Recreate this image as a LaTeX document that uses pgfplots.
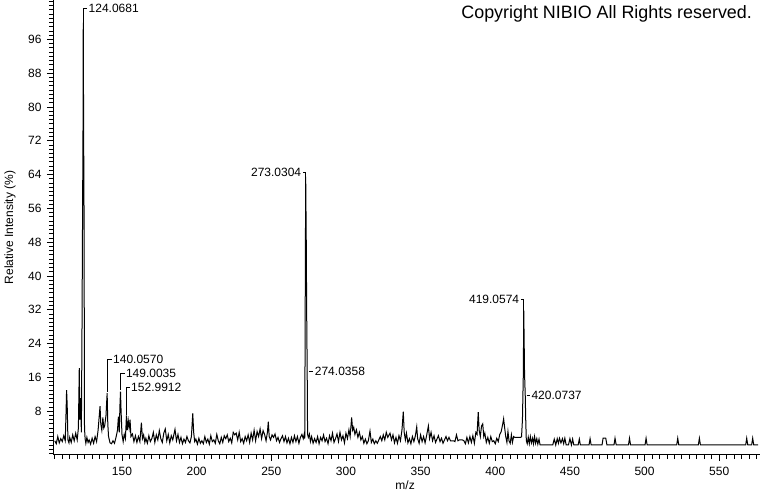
\documentclass[border=0pt]{standalone}
\usepackage{fontspec}
\setmainfont{Liberation Sans}
\usepackage{pgfplots}
\pgfplotsset{compat=1.18}
\begin{document}
\begin{tikzpicture}
\begin{axis}[
  scale only axis, width=707pt, height=455pt,
  xmin=103.8, xmax=577.3, ymin=-2.37, ymax=105.33,
  axis lines=left, axis line style={-, line width=1pt, black},
  tick align=outside,
  major tick length=6pt, minor tick length=4pt,
  every tick/.style={black, line width=0.9pt},
  xtick={150,200,...,550}, minor xtick={105,110,...,575},
  ytick={8,16,...,96}, minor ytick={-2,-1,...,105},
  ticklabel style={font=\fontsize{12}{14}\selectfont},
  xticklabel style={yshift=-3pt},
  yticklabel style={xshift=-2pt},
  /pgf/number format/assume math mode=true,
  xlabel={m/z}, ylabel={Relative Intensity (\%)},
  every axis x label/.style={at={([yshift=-30pt]axis description cs:0.498,0)}, anchor=center, font=\fontsize{12}{14}\selectfont},
  every axis y label/.style={at={([xshift=-43pt]axis description cs:0,0.5)}, anchor=center, rotate=90, font=\fontsize{12}{14}\selectfont},
  clip=false,
]
\addplot[black, line width=1pt] coordinates {
(105,1.0) (106,0.3) (107,2.0) (108,0.5) (109,1.5) (110,0.8) (111,2.2) (112,1.0)
(112.6,8.5) (112.9,13.0) (113.3,9.5) (113.8,1.2) (114.5,0.5) (115,1.8) (116,0.6)
(117,2.4) (118,1.0) (119,2.8) (120,1.2) (120.8,4) (121.4,18.2) (121.8,6) (122.3,11.1)
(122.8,3) (123.2,26) (123.6,54) (123.9,75) (124.07,100) (124.3,75) (124.6,54) (124.9,4)
(125.3,1.5) (125.8,0.4) (126.5,1.8) (127.3,0.6) (128,1.2) (129,0.2) (130,1.6) (131,0.4)
(132,2.0) (133,0.8) (134,3.5) (134.8,7) (135.3,9.2) (135.8,5) (136.5,3.5) (137.2,6.5)
(137.8,4) (138.4,4.5) (139.3,7) (140.06,12.3) (140.5,5) (141,2) (142,0.5) (143,0.3)
(144,1.0) (145,0.4) (146,1.8) (147,3.5) (147.6,6.7) (148.2,3) (148.6,9) (149.0,12.6)
(149.4,8) (150,2.5) (150.8,0.8) (151.5,2.5) (152.3,1.5) (152.99,7) (153.5,3.5)
(154.2,5.8) (154.8,4) (155.4,6) (156,2) (157,2.6) (158,0.8) (159,2.2) (160,0.6)
(161,2.0) (162,0.8) (163,5.3) (163.7,1.5) (164.5,2.4) (165.3,0.6) (166,1.6) (167,0.4)
(168,2.2) (169,0.8) (170,1.5) (171,3.0) (172,0.6) (173,2.4) (174,1.2) (175,3.4)
(176,1.5) (177,0.6) (178,2.8) (179,3.8) (180,1.0) (181,2.5) (182,0.5) (183,2.2)
(184,1.2) (185.5,3.7) (186.5,1.0) (187.5,2.5) (188.5,0.6) (189.5,1.8) (190.5,0.3)
(191.5,1.4) (192.5,0.6) (193.5,2.0) (194.5,1.0) (195.5,0.5) (196.5,2.0) (197.4,7.5)
(198,3) (198.7,0.8) (199.5,1.4) (200.5,0.2) (201.5,1.6) (202.5,0.4) (203.5,1.0)
(204.5,0.3) (205.5,2.0) (206.5,0.6) (207.5,1.4) (208.5,0.2) (209.5,2.2) (210.5,0.8)
(211.5,1.2) (212.5,0.4) (213.5,2.5) (214.5,1.0) (215.5,0.3) (216.5,1.8) (217.5,0.6)
(218.5,2.2) (219.5,1.5) (220.5,2.4) (221.5,0.8) (222.5,1.6) (223.5,0.5) (224.5,3.0)
(225.5,2.4) (226.5,2.8) (227.5,1.2) (228.5,3.0) (229.5,0.8) (230.5,1.5) (231.5,0.4)
(232.5,2.0) (233.5,1.0) (234.5,2.4) (235.5,0.6) (236.5,2.8) (237.5,1.2) (238.5,3.5)
(239.5,1.0) (240.5,3.2) (241.5,2.0) (242.5,3.8) (243.5,1.5) (244.5,3.4) (245.5,2.5)
(246.5,1.0) (247.4,3.0) (248.0,5.5) (248.6,2.0) (249.5,1.2) (250.5,2.4) (251.5,1.8)
(252.5,2.6) (253.5,1.0) (254.5,1.8) (255.5,0.6) (256.5,1.5) (257.5,2.2) (258.5,0.8)
(259.5,2.0) (260.5,0.5) (261.5,1.6) (262.5,0.3) (263.5,1.8) (264.5,0.6) (265.5,2.2)
(266.5,0.8) (267.5,2.0) (268.5,0.4) (269.5,1.8) (270.5,2.5) (271.4,1.5) (272.0,2.5)
(272.4,1.5) (272.7,31.5) (273.03,63.5) (273.4,49) (273.7,31) (274.04,17.5) (274.3,2.5)
(274.8,1.8) (275.5,2.6) (276.2,0.8) (277,2.0) (278,0.4) (279,1.5) (280,0.6) (281,2.0)
(282,0.3) (283,1.8) (284,1.0) (285,2.4) (286,0.8) (287,1.6) (288,0.3) (289,2.2)
(290,1.0) (291,2.8) (292,0.6) (293,1.5) (294,2.6) (295,0.8) (296,3.0) (297,1.2)
(298,2.2) (299,0.5) (300,2.8) (301,1.5) (302,3.6) (302.8,2.0) (303.8,6.5) (304.5,3.5)
(305.2,4.2) (306,2.5) (307,3.6) (308,1.8) (309,3.0) (310,1.2) (311,2.0) (312,0.4)
(313,1.4) (314,0.3) (315,1.0) (316.1,3.3) (317,0.6) (318,1.4) (319,0.3) (320,1.0)
(321,0.4) (322,1.2) (323,2.0) (324,1.0) (325,2.4) (326,1.2) (327,3.0) (328,1.8)
(329.5,2.8) (330.5,1.2) (331.5,2.4) (332.5,0.5) (333.5,1.8) (334.5,0.4) (335.5,2.2)
(336.5,1.0) (337.5,3.5) (338.4,7.9) (339,3) (339.8,1.2) (340.5,2.8) (341.5,0.5)
(342.5,1.5) (343.5,0.3) (344.5,2.0) (345.5,0.8) (346.5,2.2) (347.4,4.3) (348,1.5)
(349,0.4) (350,2.4) (351,0.8) (352,2.0) (353,0.5) (354,2.2) (355.2,4.5) (356,1.5)
(357,3.0) (358,1.0) (359,2.2) (360,0.6) (361.9,2.2) (363,0.8) (364,1.6) (365,0.4)
(366,1.2) (367,2.0) (368,1.0) (369,1.8) (370,1.0) (371,1.0) (372,1.0) (373,0.8)
(374,2.4) (375,1.0) (376,1.2) (377,1.2) (378,1.2) (379,1.0) (380,0.3) (381,1.8)
(382,0.5) (383,2.0) (384,0.6) (385,2.2) (386,0.4) (387,3.0) (387.8,2.5) (388.6,7.8)
(389.2,3.5) (390,2.0) (390.8,4.5) (391.6,5.0) (392.3,2.0) (393,2.8) (394,0.6)
(395,1.8) (396,0.4) (397,2.0) (398,0.8) (399,1.0) (400,0.3) (401,1.6) (402,0.8)
(403,2.5) (404,3.2) (405,5.0) (405.6,6.2) (406.3,4.0) (407,2.0) (407.8,0.6)
(408.5,3.2) (409.2,1.0) (410,0.4) (410.8,2.4) (411.5,0.6) (412.3,2.0) (413,1.8)
(414,1.8) (415,1.8) (416,1.8) (417,1.8) (417.6,2.0) (418.2,6) (418.8,17) (419.06,32)
(419.3,26) (419.6,17) (420.07,11.8) (420.4,6) (420.8,1.0) (421.4,0.3) (422.1,1.8)
(422.8,0.3) (423.5,2.0) (424.2,0.5) (425,1.6) (425.6,0.3) (426.3,2.0) (427,0.4)
(427.8,1.5) (428.5,0.2) (429.3,1.4) (430,0) (438.5,0) (439.5,1.4) (440.5,0)
(441.5,1.5) (442.3,0.4) (443,1.6) (444,0.5) (445,1.5) (445.8,0.3) (446.6,1.6)
(447.5,0) (449,0) (450,1.5) (451,0) (451.8,1.4) (452.6,0) (455.5,0) (456.3,1.4)
(457,0) (462.8,0) (463.5,1.5) (464.2,0) (471.5,0) (472.2,1.6) (473,1.6) (474,1.6)
(474.8,0) (479.5,0) (480.2,1.6) (481,0) (489.2,0) (489.9,1.6) (490.6,0) (500.3,0)
(501,1.6) (501.7,0) (521.5,0) (522.2,1.6) (522.9,0) (536,0) (536.7,1.6) (537.4,0)
(567.7,0) (568.4,1.6) (569.1,0) (571.7,0) (572.4,1.6) (573.1,0) (576,0)
};
\tikzset{lab/.style={font=\fontsize{12}{14}\selectfont, inner sep=1pt}}
\draw[line width=1pt] (axis cs:124.07,100) |- (axis cs:126.7,103.3) node[lab, anchor=west] {124.0681};
\draw[line width=1pt] (axis cs:273.03,63.5) |- (axis cs:271.0,64.6) node[lab, anchor=east] {273.0304};
\draw[line width=1pt] (axis cs:419.06,32) |- (axis cs:417.0,34.4) node[lab, anchor=east] {419.0574};
\draw[line width=1pt] (axis cs:275.3,17.5) -- (axis cs:278.2,17.5) node[lab, anchor=west] {274.0358};
\draw[line width=1pt] (axis cs:421.0,11.8) -- (axis cs:423.3,11.8) node[lab, anchor=west] {420.0737};
\draw[line width=1pt] (axis cs:140.06,12.6) |- (axis cs:143.1,20.2) node[lab, anchor=west] {140.0570};
\draw[line width=1pt] (axis cs:149.0,13.0) |- (axis cs:151.7,17.0) node[lab, anchor=west] {149.0035};
\draw[line width=1pt] (axis cs:152.99,7.1) |- (axis cs:155.2,13.6) node[lab, anchor=west] {152.9912};
\node[font=\fontsize{17.9}{20}\selectfont, anchor=east, inner sep=0pt] at (axis cs:572.0,102.0) {Copyright NIBIO All Rights reserved.};
\end{axis}
\pgfresetboundingbox
\path ([xshift=-53pt,yshift=-37pt]current axis.south west) rectangle (current axis.north east);
\end{tikzpicture}
\end{document}
